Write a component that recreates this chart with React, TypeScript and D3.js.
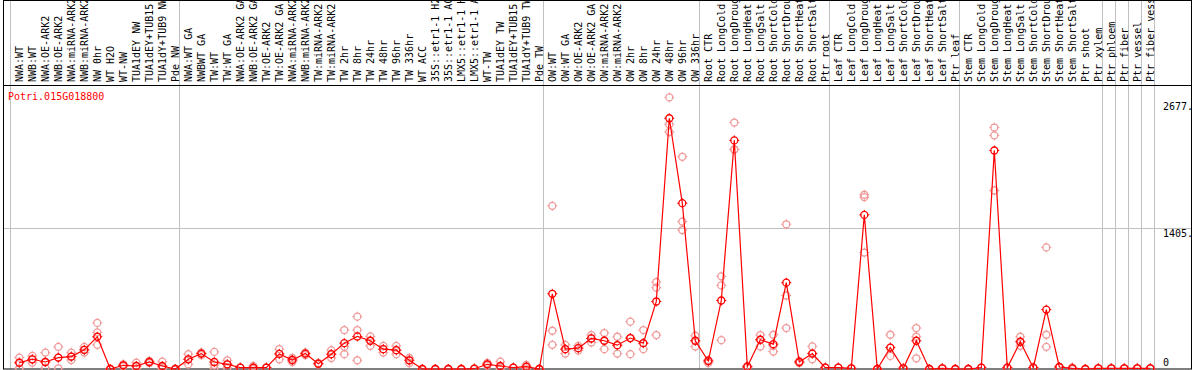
import React from "react";
import * as d3 from "d3";

const title = "Potri.015G018800";

const categories = [
  "NWA:WT", "NWB:WT", "NWA:OE-ARK2", "NWB:OE-ARK2", "NWA:miRNA-ARK2", "NWB:miRNA-ARK2", "NW 0hr", "WT H2O", "WT-NW", "TUA1dEY NW", "TUA1dEY+TUB15 NW", "TUA1dY+TUB9 NW", "Pde NW",
  "NWA:WT GA", "NWBWT GA", "TW:WT", "TW:WT GA", "NWA:OE-ARK2 GA", "NWB:OE-ARK2 GA", "TW:OE-ARK2", "TW:OE-ARK2 GA", "NWA:miRNA-ARK2 GA", "NWB:miRNA-ARK2 GA", "TW:miRNA-ARK2", "TW:miRNA-ARK2 GA",
  "TW 2hr", "TW 8hr", "TW 24hr", "TW 48hr", "TW 96hr", "TW 336hr", "WT ACC", "35S::etr1-1 H2O", "35S::etr1-1 ACC", "LMX5::etr1-1 H2O", "LMX5::etr1-1 ACC", "WT-TW", "TUA1dEY TW", "TUA1dEY+TUB15 TW", "TUA1dY+TUB9 TW", "Pde TW",
  "OW:WT", "OW:WT GA", "OW:OE-ARK2", "OW:OE-ARK2 GA", "OW:miRNA-ARK2", "OW:miRNA-ARK2 GA", "OW 2hr", "OW 8hr", "OW 24hr", "OW 48hr", "OW 96hr", "OW 336hr",
  "Root CTR", "Root LongCold", "Root LongDrought", "Root LongHeat", "Root LongSalt", "Root ShortCold", "Root ShortDrought", "Root ShortHeat", "Root ShortSalt", "Ptr root",
  "Leaf CTR", "Leaf LongCold", "Leaf LongDrought", "Leaf LongHeat", "Leaf LongSalt", "Leaf ShortCold", "Leaf ShortDrought", "Leaf ShortHeat", "Leaf ShortSalt", "Ptr leaf",
  "Stem CTR", "Stem LongCold", "Stem LongDrought", "Stem LongHeat", "Stem LongSalt", "Stem ShortCold", "Stem ShortDrought", "Stem ShortHeat", "Stem ShortSalt", "Ptr shoot", "Ptr xylem",
  "Ptr phloem", "Ptr fiber", "Ptr vessel", "Ptr fiber vessel",
];

const groupBreaks = [0, 13, 41, 53, 63, 73, 84, 85, 86, 87, 88];

const means = [
  63, 97, 70, 114, 124, 191, 322, 0, 37, 30, 70, 30, 0,
  97, 154, 70, 47, 13, 13, 13, 151, 90, 154, 53, 148, 258, 325, 282, 198, 188, 87, 0, 0, 0, 0, 3, 47, 30, 13, 23, 0,
  751, 198, 208, 305, 282, 238, 309, 258, 674, 2504, 1656, 282,
  80, 684, 2283, 23, 292, 248, 862, 70, 154, 13,
  13, 7, 1539, 0, 214, 7, 282, 0, 7, 0,
  0, 13, 2182, 13, 272, 13, 593, 20, 7, 0, 7,
  7, 7, 7, 7,
];

const replicates = [
  [114, 63, 7], [131, 97, 63], [164, 70, 10], [221, 114, 7], [164, 124, 90], [221, 191, 164], [460, 365, 241], [0, 0, 0], [47, 37, 27], [63, 30, 5], [80, 70, 60], [73, 20, 5], [0, 0, 0],
  [148, 97, 47], [164, 154, 140], [171, 40, 7], [87, 47, 10], [13, 13, 13], [30, 13, 0], [13, 13, 13], [198, 151, 97], [110, 90, 70], [164, 154, 140], [60, 53, 47], [188, 148, 110],
  [389, 221, 148], [523, 389, 87], [325, 282, 231], [231, 198, 164], [231, 188, 148], [110, 87, 60], [0, 0, 0], [0, 0, 0], [0, 0, 0], [0, 0, 0], [5, 3, 0], [60, 47, 35], [73, 20, 0], [13, 13, 13], [40, 23, 7], [0, 0, 0],
  [1629, 382, 241], [241, 198, 154], [231, 208, 185], [339, 305, 265], [359, 282, 198], [322, 238, 154], [473, 309, 148], [389, 258, 198], [868, 812, 339], [2712, 2444, 2367], [2119, 1472, 1388], [332, 282, 225],
  [90, 80, 60], [925, 835, 288], [2461, 2192, 2192], [30, 23, 15], [339, 292, 225], [342, 231, 174], [1445, 734, 409], [80, 70, 60], [225, 154, 97], [13, 13, 13],
  [13, 13, 13], [7, 7, 7], [1740, 1717, 1163], [0, 0, 0], [342, 214, 131], [7, 7, 7], [409, 322, 107], [0, 0, 0], [7, 7, 7], [0, 0, 0],
  [0, 0, 0], [13, 13, 13], [2411, 2333, 1783], [13, 13, 13], [322, 272, 231], [13, 13, 13], [1214, 342, 221], [20, 20, 20], [15, 7, 0], [0, 0, 0], [7, 7, 7],
  [7, 7, 7], [7, 7, 7], [7, 7, 7], [7, 7, 7],
];

const yTicks = [0, 1405, 2677];
const yTickLabels = ["0", "1405.", "2677."];
const gridValues = [1405];

const W = 1194;
const H = 370;
const FONT = "'DejaVu Sans Mono', monospace";

export default function App() {
  const step = 13;
  const left = 10.5;
  const xPos = d3.scaleLinear().domain([0, 1]).range([19.3, 19.3 + step]);
  const xEdge = d3.scaleLinear().domain([0, 1]).range([left, left + step]);
  const y = d3.scaleLinear().domain([0, 1405]).range([369, 228.3]);

  const line = d3
    .line<number>()
    .x((_, i) => xPos(i))
    .y((d) => y(d));

  const r = 3.5;
  const marker = (cx: number, cy: number, color: string, key: string) => {
    const t0 = r - 0.5;
    const t1 = r + 1.5;
    const p = `M${cx},${cy - t1}V${cy - t0}M${cx},${cy + t0}V${cy + t1}M${cx - t1},${cy}H${cx - t0}M${cx + t0},${cy}H${cx + t1}`;
    return (
      <g key={key}>
        <circle cx={cx} cy={cy} r={r} fill="none" stroke={color} strokeWidth={1.3} />
        <path d={p} stroke={color} strokeWidth={1} fill="none" />
      </g>
    );
  };

  const plotRight = xEdge(88);

  return (
    <svg
      width={W}
      height={H}
      style={{ position: "absolute", left: 0, top: 0, background: "#fff" }}
      fontFamily={FONT}
    >
      <rect x={0} y={0} width={W} height={H} fill="#fff" />
      {groupBreaks.map((b) => (
        <line key={"g" + b} x1={xEdge(b)} x2={xEdge(b)} y1={0} y2={369} stroke="#c0c0c0" strokeWidth={1} />
      ))}
      {gridValues.map((v) => (
        <line key={"h" + v} x1={3} x2={1192} y1={Math.round(y(v)) + 0.5} y2={Math.round(y(v)) + 0.5} stroke="#c0c0c0" strokeWidth={1} />
      ))}
      {categories.map((c, i) => {
        const tx = xPos(i) + 3.5;
        const ty = 82;
        return (
          <text key={"c" + i} x={tx} y={ty} fontSize={10} fill="#000" transform={`rotate(-90 ${tx} ${ty})`}>
            {c}
          </text>
        );
      })}
      <line x1={3} x2={1192} y1={85.5} y2={85.5} stroke="#000" strokeWidth={1} />
      <rect x={3.5} y={0.5} width={1188} height={368.5} fill="none" stroke="#000" strokeWidth={1} />
      <text x={8} y={100} fontSize={10} fill="#ff0000">{title}</text>
      {yTicks.map((v, i) => (
        <text key={"t" + v} x={1163} y={v === 0 ? 366 : y(v) + 8.7} fontSize={10} fill="#000">
          {yTickLabels[i]}
        </text>
      ))}
      {replicates.map((reps, i) => reps.map((v, j) => marker(xPos(i), y(v), "#f09a9a", `r${i}-${j}`)))}
      <path d={line(means) || ""} fill="none" stroke="#ff0000" strokeWidth={1.2} />
      {means.map((v, i) => marker(xPos(i), y(v), "#ff0000", "m" + i))}
      <line x1={plotRight} x2={plotRight} y1={0} y2={369} stroke="#c0c0c0" strokeWidth={0} />
    </svg>
  );
}
